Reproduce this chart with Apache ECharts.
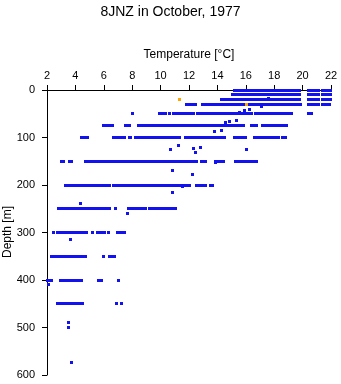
<!DOCTYPE html>
<html>
<head>
<meta charset="utf-8">
<script src="https://cdn.jsdelivr.net/npm/echarts@6/dist/echarts.min.js"></script>
<style>
html,body{margin:0;padding:0;background:#fff;}
#chart{width:341px;height:384px;}
</style>
</head>
<body>
<div id="chart"></div>
<script>
// Chart text
const titleText = '8JNZ in October, 1977';
const xName = 'Temperature [°C]';
const yName = 'Depth [m]';

// Axis ranges / ticks
const tempTicks = [2, 4, 6, 8, 10, 12, 14, 16, 18, 20, 22];
const depthTicks = [0, 100, 200, 300, 400, 500, 600];

// Runs of densely packed observations: [tempStart, tempEnd, depth]
const runs = [
  // 0 m
  [15.18,16.36,0],[16.5,19.33,0],[19.44,19.77,0],[20.39,20.71,0],[20.93,21.12,0],[21.42,21.59,0],[21.75,21.94,0],
  // 10 m
  [15.06,16.38,10],[16.5,19.8,10],[20.39,20.71,10],[20.93,21.12,10],[21.42,21.59,10],[21.75,21.94,10],
  // 20 m
  [14.26,14.66,20],[14.78,14.9,20],[15.0,19.5,20],[19.68,19.8,20],[20.39,20.71,20],[20.93,21.12,20],[21.42,21.59,20],[21.75,21.94,20],
  // 30 m
  [11.84,12.07,30],[12.2,12.47,30],[12.96,13.2,30],[13.34,13.55,30],[13.77,14.73,30],[14.9,19.26,30],[19.44,19.84,30],
  [20.39,20.83,30],[20.93,21.12,30],[21.42,21.59,30],[21.73,21.87,30],
  // 50 m
  [9.95,10.37,50],[10.9,12.35,50],[12.58,12.97,50],[13.08,13.77,50],[13.98,16.43,50],[16.67,17.53,50],[17.6,19.2,50],[20.43,20.62,50],
  // 75 m
  [6.0,6.23,75],[6.42,6.6,75],[7.55,7.83,75],[8.47,8.61,75],[8.82,9.05,75],[9.15,9.67,75],[9.83,10.14,75],[10.28,10.66,75],
  [10.78,11.13,75],[11.32,12.58,75],[12.7,13.29,75],[13.41,15.25,75],[15.41,15.84,75],[16.38,16.78,75],[17.16,17.39,75],[17.53,18.9,75],
  // 100 m
  [4.46,4.84,100],[6.65,7.43,100],[7.78,7.9,100],[8.25,8.82,100],[8.96,11.36,100],[11.72,14.47,100],[15.18,15.37,100],
  [15.44,15.65,100],[15.72,16.0,100],[16.59,17.2,100],[17.3,18.27,100],[18.55,18.79,100],
  // 150 m
  [3.0,3.19,150],[3.59,3.75,150],[4.72,5.19,150],[5.4,5.9,150],[5.99,6.84,150],[6.93,7.31,150],[7.4,8.3,150],[8.49,10.59,150],
  [10.66,12.12,150],[12.21,12.54,150],[12.85,13.18,150],[13.84,14.43,150],[15.25,15.44,150],[15.6,16.0,150],[16.08,16.38,150],[16.47,16.73,150],
  // 200 m
  [3.3,3.42,200],[3.66,5.9,200],[6.06,6.42,200],[6.65,6.84,200],[6.96,8.89,200],[9.0,9.67,200],[9.76,9.95,200],
  [10.14,11.48,200],[11.55,12.07,200],[12.54,12.78,200],[12.97,13.18,200],[13.48,13.67,200],
  // 250 m
  [2.83,6.42,250],[7.76,8.6,250],[8.82,8.96,250],[9.24,9.43,250],[9.53,10.66,250],[10.85,11.06,250],
  // 300 m
  [2.77,4.77,300],[5.55,6.06,300],[6.96,7.43,300],
  // 350 m
  [2.32,4.7,350],[6.37,6.72,350],
  // 400 m
  [2.05,2.3,400],[2.93,4.46,400],[5.6,5.83,400],
  // 450 m
  [2.9,4.49,450]
];

// Isolated observations: [temperature, depth]
const singles = [
  [17.6,17],[17.1,35],
  [15.58,47],[15.88,44],[16.25,42],
  [8.02,50],[10.63,50],
  [14.56,69],[14.86,66],[15.33,65],
  [13.78,88],[14.3,86],
  [11.27,117],[10.69,125],[12.3,124],[12.78,122],[12.47,132],[16.05,125],
  [13.9,153],
  [10.81,170],[12.24,178],
  [11.53,203],[10.82,215],[4.39,238],
  [6.84,250],[7.64,259],
  [2.46,300],[5.2,300],[6.3,300],[3.64,314],
  [5.99,350],
  [7.0,400],[2.13,409],
  [2.72,450],[6.89,450],[7.24,450],
  [3.52,490],[3.52,500],[3.75,573]
];

// Flagged observations (orange): [temperature, depth]
const flagged = [[11.33,20],[16.03,30]];

const blue = '#1212f0';
const orange = '#ffa500';
const font = '"Liberation Sans", Arial, sans-serif';

const chart = echarts.init(document.getElementById('chart'), null, {renderer: 'canvas'});

function makeRunRenderer(color) {
  return function (params, api) {
    const a = api.coord([api.value(0), api.value(2)]);
    const b = api.coord([api.value(1), api.value(2)]);
    const x0 = Math.round(a[0] - 1.5);
    const x1 = Math.round(b[0] + 1.5);
    const y0 = Math.round(a[1] - 1.5);
    return {
      type: 'rect',
      shape: {x: x0, y: y0, width: Math.max(3, x1 - x0), height: 3},
      style: {fill: color}
    };
  };
}

function makePointRenderer(color) {
  return function (params, api) {
    const p = api.coord([api.value(0), api.value(1)]);
    return {
      type: 'rect',
      shape: {x: Math.round(p[0] - 1.5), y: Math.round(p[1] - 1.5), width: 3, height: 3},
      style: {fill: color}
    };
  };
}

chart.setOption({
  animation: false,
  backgroundColor: '#ffffff',
  title: {
    text: titleText,
    left: 'center',
    top: 0,
    textStyle: {fontFamily: font, fontSize: 14, fontWeight: 'normal', color: '#000'}
  },
  graphic: [{
    type: 'text',
    x: 8,
    y: 232,
    rotation: Math.PI / 2,
    style: {
      text: yName,
      fontFamily: font,
      fontSize: 12,
      fill: '#000',
      align: 'center',
      verticalAlign: 'middle'
    }
  }],
  grid: {left: 47, right: 10, top: 90, bottom: 9, containLabel: false, outerBoundsMode: 'none'},
  xAxis: {
    type: 'value',
    position: 'top',
    min: tempTicks[0],
    max: tempTicks[tempTicks.length - 1],
    interval: tempTicks[1] - tempTicks[0],
    name: xName,
    nameLocation: 'middle',
    nameGap: 29,
    nameTextStyle: {fontFamily: font, fontSize: 12, color: '#000'},
    axisLine: {show: true, lineStyle: {color: '#000', width: 1}},
    axisTick: {show: true, inside: false, length: 5, lineStyle: {color: '#000'}},
    axisLabel: {fontFamily: font, fontSize: 11, color: '#000', margin: 9},
    splitLine: {show: false}
  },
  yAxis: {
    type: 'value',
    inverse: true,
    min: depthTicks[0],
    max: depthTicks[depthTicks.length - 1],
    interval: depthTicks[1] - depthTicks[0],
    axisLine: {show: true, onZero: false, lineStyle: {color: '#000', width: 1}},
    axisTick: {show: true, inside: false, length: 5, lineStyle: {color: '#000'}},
    axisLabel: {fontFamily: font, fontSize: 11, color: '#000', margin: 12},
    splitLine: {show: false}
  },
  series: [
    {
      type: 'custom',
      renderItem: makeRunRenderer(blue),
      data: runs,
      encode: {x: [0, 1], y: 2},
      clip: false,
      z: 3
    },
    {
      type: 'custom',
      renderItem: makePointRenderer(blue),
      data: singles,
      encode: {x: 0, y: 1},
      clip: false,
      z: 3
    },
    {
      type: 'custom',
      renderItem: makePointRenderer(orange),
      data: flagged,
      encode: {x: 0, y: 1},
      clip: false,
      z: 5
    }
  ]
});
</script>
</body>
</html>
